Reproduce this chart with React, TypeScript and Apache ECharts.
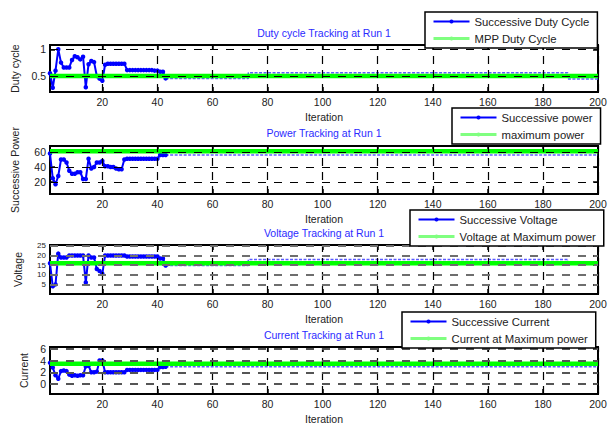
import React, { useEffect, useRef } from 'react';
import * as echarts from 'echarts';

// ---------- data ----------
const xTicks = [20, 40, 60, 80, 100, 120, 140, 160, 180, 200];

// Duty cycle (iterations 1..43), then tail segments
const dutyHead = [
  0.55, 0.28, 0.6, 1.0, 0.75, 0.66, 0.66, 0.66, 0.8, 0.87,
  0.85, 0.81, 0.86, 0.29, 0.72, 0.78, 0.76, 0.5, 0.45, 0.41,
  0.71, 0.73, 0.73, 0.73, 0.73, 0.73, 0.73, 0.73, 0.61, 0.61,
  0.61, 0.61, 0.61, 0.61, 0.61, 0.61, 0.61, 0.61, 0.6, 0.6,
  0.58, 0.58, 0.455,
];
const dutyTail = [[43, 0.455], [73, 0.455], [73, 0.56], [189, 0.56], [189, 0.445], [200, 0.445]];
const dutyMpp = 0.5;
const dutyTicks = [0.5, 1];

// Power
const powerHead = [
  58, 25, 17, 28, 50, 50, 46, 35, 31, 31,
  33, 33, 24, 24, 51, 38, 40, 46, 46, 48,
  41, 41, 40, 40, 38, 37, 37, 50, 51, 51,
  51, 51, 51, 51, 51, 51, 51, 51, 51, 51,
  56, 56, 56,
];
const powerTail = [[43, 56], [200, 56]];
const powerMpp = 61;
const powerTicks = [20, 40, 60];

// Voltage
const voltageHead = [
  16, 4, 5, 21, 19, 19, 19, 20, 20, 20,
  20, 20, 20, 6, 20, 19, 19, 13, 12, 10.5,
  20, 20, 20, 20, 20, 20, 20, 20, 19.5, 19.5,
  19.5, 19.5, 19.5, 19.5, 19.5, 19.5, 19.5, 19.5, 19.5, 19.5,
  18.5, 18.5, 14.8,
];
const voltageTail = [[43, 14.8], [73, 14.8], [73, 18], [189, 18], [189, 16.8], [200, 16.8]];
const voltageMpp = 16;
const voltageTicks = [5, 10, 15, 20, 25];

// Current
const currentHead = [
  3.6, 2.8, 1.5, 0.9, 2.2, 2.3, 2.2, 1.6, 1.4, 1.5,
  1.4, 1.5, 1.5, 3.0, 3.1, 2.0, 2.0, 2.1, 4.0, 4.0,
  2.0, 2.0, 2.0, 2.0, 2.0, 2.0, 2.0, 2.0, 2.4, 2.4,
  2.4, 2.4, 2.4, 2.4, 2.4, 2.4, 2.4, 2.4, 2.4, 2.4,
  2.9, 2.9, 2.95,
];
const currentTail = [[43, 2.95], [200, 2.95]];
const currentMpp = 3.45;
const currentTicks = [0, 2, 4, 6];

// ---------- layout / styling ----------
const FONT = '"Liberation Sans", Arial, Helvetica, sans-serif';
const GRID_LEFT = 50;
const GRID_WIDTH = 548;

const panels = [
  {
    title: 'Duty cycle Tracking at Run 1', titleY: 33,
    yName: 'Duty cycle', nameGap: 30, labelSize: 10.5,
    min: 0.2, max: 1.08, ticks: dutyTicks,
    head: dutyHead, tail: dutyTail, mpp: dutyMpp,
    succName: 'Successive Duty Cycle', mppName: 'MPP Duty Cycle',
    top: 45, height: 47, legendLeft: 425, legendTop: 12,
    hColor: '#000', hWidth: 1.2,
  },
  {
    title: 'Power Tracking at Run 1', titleY: 133,
    yName: 'Successive Power', nameGap: 30, labelSize: 10.5,
    min: 4, max: 68, ticks: powerTicks,
    head: powerHead, tail: powerTail, mpp: powerMpp,
    succName: 'Successive power', mppName: 'maximum power',
    top: 146, height: 48, legendLeft: 452, legendTop: 108,
    hColor: '#000', hWidth: 1.2,
  },
  {
    title: 'Voltage Tracking at Run 1', titleY: 233,
    yName: 'Voltage', nameGap: 27, labelSize: 8,
    min: 0, max: 25.5, ticks: voltageTicks,
    head: voltageHead, tail: voltageTail, mpp: voltageMpp,
    succName: 'Successive Voltage', mppName: 'Voltage at Maximum power',
    top: 245, height: 49, legendLeft: 410, legendTop: 210,
    hColor: '#6e6e6e', hWidth: 2,
  },
  {
    title: 'Current Tracking at Run 1', titleY: 335,
    yName: 'Current', nameGap: 20, labelSize: 10.5,
    min: -1.7, max: 6.3, ticks: currentTicks,
    head: currentHead, tail: currentTail, mpp: currentMpp,
    succName: 'Successive Current', mppName: 'Current at Maximum power',
    top: 347, height: 47, legendLeft: 402, legendTop: 312,
    hColor: '#555', hWidth: 2,
  },
];

function buildOption() {
  const grid: any[] = [];
  const xAxis: any[] = [];
  const yAxis: any[] = [];
  const series: any[] = [];
  const legend: any[] = [];
  const graphic: any[] = [];

  panels.forEach((p, i) => {
    grid.push({
      left: GRID_LEFT, top: p.top, width: GRID_WIDTH, height: p.height,
      show: true, borderColor: '#000', borderWidth: 2, backgroundColor: '#fff',
      containLabel: false, outerBoundsMode: 'none',
    });
    const tickStyle = { show: true, inside: true, length: 5, lineStyle: { color: '#000', width: 1.5 } };
    xAxis.push({
      gridIndex: i, type: 'value', min: 1, max: 200, position: 'bottom',
      name: 'Iteration', nameLocation: 'middle', nameGap: 19,
      nameTextStyle: { fontSize: 10.5, color: '#222', fontFamily: FONT },
      axisLine: { show: true, onZero: false, lineStyle: { color: '#000', width: 2 } },
      axisTick: { ...tickStyle, customValues: xTicks },
      axisLabel: { customValues: xTicks, color: '#222', fontSize: 10.5, margin: 4, fontFamily: FONT },
      splitLine: { show: false },
    });
    xAxis.push({
      gridIndex: i, type: 'value', min: 1, max: 200, position: 'top',
      axisLine: { show: false, onZero: false },
      axisTick: { ...tickStyle, customValues: xTicks },
      axisLabel: { show: false, customValues: xTicks },
      splitLine: { show: false },
    });
    yAxis.push({
      gridIndex: i, type: 'value', min: p.min, max: p.max, position: 'left',
      name: p.yName, nameLocation: 'middle', nameGap: p.nameGap, nameRotate: 90,
      nameTextStyle: { fontSize: 10.5, color: '#222', fontFamily: FONT },
      axisLine: { show: true, onZero: false, lineStyle: { color: '#000', width: 2 } },
      axisTick: { ...tickStyle, customValues: p.ticks },
      axisLabel: {
        customValues: p.ticks, color: '#222', fontSize: p.labelSize, margin: 4,
        fontFamily: FONT, lineHeight: p.labelSize,
      },
      splitLine: { show: false },
    });
    yAxis.push({
      gridIndex: i, type: 'value', min: p.min, max: p.max, position: 'right',
      axisLine: { show: false, onZero: false },
      axisTick: { ...tickStyle, customValues: p.ticks },
      axisLabel: { show: false, customValues: p.ticks },
      splitLine: { show: false },
    });

    const xi = 2 * i;
    const yi = 2 * i;
    // grid lines
    series.push({
      type: 'line', xAxisIndex: xi, yAxisIndex: yi, data: [], silent: true, z: 1,
      markLine: {
        silent: true, symbol: ['none', 'none'], label: { show: false }, animation: false,
        data: [
          ...xTicks.map((v) => ({ xAxis: v, lineStyle: { color: '#000', width: 1.2, type: [8, 6] } })),
          ...p.ticks.map((v) => ({ yAxis: v, lineStyle: { color: p.hColor, width: p.hWidth, type: [8, 8] } })),
        ],
      },
    });
    series.push({
      name: p.succName, type: 'line', xAxisIndex: xi, yAxisIndex: yi,
      data: p.head.map((v, k) => [k + 1, v]),
      symbol: 'circle', symbolSize: 4.5, showSymbol: true,
      lineStyle: { color: '#0000ff', width: 2 }, itemStyle: { color: '#0000ff' }, z: 3,
    });
    series.push({
      name: p.succName, type: 'line', xAxisIndex: xi, yAxisIndex: yi,
      data: p.tail, symbol: 'none', showSymbol: false,
      lineStyle: { color: '#5c5cff', width: 1.5, type: [3, 1.5] }, z: 3,
    });
    series.push({
      name: p.mppName, type: 'line', xAxisIndex: xi, yAxisIndex: yi,
      data: [[1, p.mpp], [200, p.mpp]], symbol: 'none', showSymbol: false,
      lineStyle: { color: '#00ff00', width: 4.5 }, itemStyle: { color: '#00ff00' }, z: 4,
    });

    legend.push({
      left: p.legendLeft, top: p.legendTop, orient: 'vertical',
      data: [
        { name: p.succName },
        { name: p.mppName, itemStyle: { color: '#80ff80' }, lineStyle: { color: '#80ff80', width: 3 } },
      ],
      itemWidth: 36, itemHeight: 5, itemGap: 6, padding: [4, 8, 4, 7],
      borderColor: '#000', borderWidth: 1.5, backgroundColor: '#fff',
      textStyle: { fontSize: 11.3, color: '#222', fontFamily: FONT },
      selectedMode: false, z: 10,
    });

    graphic.push({
      type: 'text', x: GRID_LEFT + GRID_WIDTH / 2, y: p.titleY, z: 20,
      style: {
        text: p.title, fill: '#2b2bff', font: `10.5px ${FONT}`,
        textAlign: 'center', textVerticalAlign: 'middle',
      },
    });
  });

  return {
    animation: false,
    backgroundColor: '#fff',
    grid, xAxis, yAxis, series, legend, graphic,
  };
}

export default function App() {
  const ref = useRef<HTMLDivElement>(null);
  useEffect(() => {
    const chart = echarts.init(ref.current!, undefined, { renderer: 'svg' });
    chart.setOption(buildOption() as any);
    return () => chart.dispose();
  }, []);
  return (
    <div
      ref={ref}
      style={{ position: 'absolute', left: 0, top: 0, width: 613, height: 423, background: '#fff' }}
    />
  );
}
